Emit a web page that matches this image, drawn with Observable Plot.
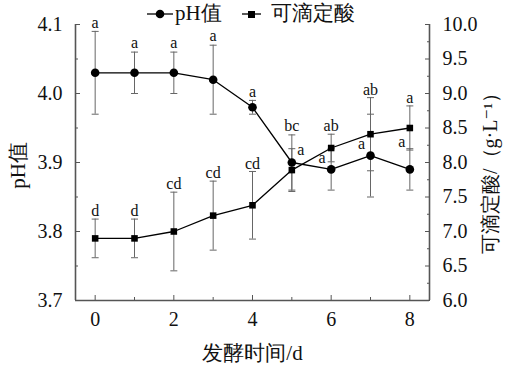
<!DOCTYPE html>
<html><head><meta charset="utf-8">
<script src="https://cdn.jsdelivr.net/npm/d3@7"></script>
<script src="https://cdn.jsdelivr.net/npm/@observablehq/plot@0.6"></script>
<style>
body{margin:0;background:#fff;}
#wrap{position:relative;width:505px;height:367px;font-family:"Liberation Serif","Times New Roman","DejaVu Serif",serif;color:#111;}
.lg{position:absolute;top:0;height:26px;line-height:26px;font-size:21px;white-space:nowrap;}
.lg svg{display:block}
#chart{position:absolute;left:0;top:0;}
#chart svg text{font-family:"Liberation Serif","Times New Roman","DejaVu Serif",serif;}
</style></head>
<body><div id="wrap">
<div id="chart"></div>
<div id="legend"></div>
</div>
<script>
// ---- data ----
const days = [0, 1, 2, 3, 4, 5, 6, 7, 8];
const phValues = [4.03, 4.03, 4.03, 4.02, 3.98, 3.90, 3.89, 3.91, 3.89];
const phErrors = [0.06, 0.03, 0.03, 0.05, 0.01, 0.04, 0.03, 0.06, 0.03];
const acidValues = [6.90, 6.90, 7.00, 7.23, 7.38, 7.89, 8.21, 8.41, 8.50];
const acidErrors = [0.28, 0.28, 0.57, 0.50, 0.49, 0.31, 0.20, 0.53, 0.32];
const phLetters = ["a", "a", "a", "a", "a", "a", "a", "a", "a"];
const acidLetters = ["d", "d", "cd", "cd", "cd", "bc", "ab", "ab", "a"];
const phLetterSide = ["top", "top", "top", "top", "top", "right", "left", "left", "capleft"];
const acidLetterSide = ["top", "top", "top", "top", "top", "both", "top", "top", "top"];
const xTicks = [0, 2, 4, 6, 8];
const xMinorTicks = [1, 3, 5, 7];
const phTicks = [3.7, 3.8, 3.9, 4.0, 4.1];
const phMinorTicks = [3.75, 3.85, 3.95, 4.05];
const acidTicks = [6.0, 6.5, 7.0, 7.5, 8.0, 8.5, 9.0, 9.5, 10.0];
const acidMinorTicks = [6.25, 6.75, 7.25, 7.75, 8.25, 8.75, 9.25, 9.75];
const xDomain = [-0.5, 8.5];
const phDomain = [3.7, 4.1];
const acidDomain = [6.0, 10.0];
const seriesNames = ["pH值", "可滴定酸"];
const xTitle = "发酵时间/d";
const phTitle = "pH值";
const acidTitle = "可滴定酸/（g·L⁻¹）";

// ---- helpers ----
const toPh = v => phDomain[0] + (v - acidDomain[0]) * (phDomain[1] - phDomain[0]) / (acidDomain[1] - acidDomain[0]);
const fromPh = p => acidDomain[0] + (p - phDomain[0]) * (acidDomain[1] - acidDomain[0]) / (phDomain[1] - phDomain[0]);

const rows = days.map((d, i) => ({
  day: d,
  ph: phValues[i], phLo: phValues[i] - phErrors[i], phHi: phValues[i] + phErrors[i],
  acid: toPh(acidValues[i]), acidLo: toPh(acidValues[i] - acidErrors[i]), acidHi: toPh(acidValues[i] + acidErrors[i]),
  phLetter: phLetters[i], acidLetter: acidLetters[i],
  phSide: phLetterSide[i], acidSide: acidLetterSide[i]
}));
const caps = rows.flatMap(r => [
  {day: r.day, y: r.phLo}, {day: r.day, y: r.phHi},
  {day: r.day, y: r.acidLo}, {day: r.day, y: r.acidHi}
]);
const capSymbol = {draw(ctx, size) { const w = Math.sqrt(size / Math.PI); ctx.moveTo(-w, 0); ctx.lineTo(w, 0); }};

const axisGray = "#555";
const errGray = "#666";

const chart = Plot.plot({
  width: 505, height: 367,
  marginLeft: 75, marginRight: 76, marginTop: 24, marginBottom: 67,
  style: {fontSize: "20px", color: "#111", background: "white"},
  x: {domain: xDomain},
  y: {domain: phDomain},
  marks: [
    Plot.ruleX([xDomain[0], xDomain[1]], {stroke: axisGray, strokeWidth: 1.6}),
    Plot.ruleY([phDomain[0]], {stroke: axisGray, strokeWidth: 1.6}),
    Plot.axisX(xTicks, {tickSize: -5, tickPadding: 16, fontSize: 20, stroke: axisGray, label: null}),
    Plot.axisX(xMinorTicks, {tickSize: -3, tickFormat: () => "", stroke: axisGray, label: null}),
    Plot.axisY(phTicks, {anchor: "left", tickSize: -5, tickPadding: 18, fontSize: 20, stroke: axisGray, tickFormat: d => d.toFixed(1), label: null}),
    Plot.axisY(phMinorTicks, {anchor: "left", tickSize: -3, tickFormat: () => "", stroke: axisGray, label: null}),
    Plot.axisY(acidTicks.map(toPh), {anchor: "right", tickSize: -5, tickPadding: 18, fontSize: 20, stroke: axisGray, tickFormat: d => fromPh(d).toFixed(1), label: null}),
    Plot.axisY(acidMinorTicks.map(toPh), {anchor: "right", tickSize: -3, tickFormat: () => "", stroke: axisGray, label: null}),
    Plot.text([xTitle], {frameAnchor: "bottom", dy: 53, fontSize: 21, textAnchor: "middle", lineAnchor: "middle"}),
    Plot.text([phTitle], {frameAnchor: "left", dx: -57, dy: 3, rotate: -90, fontSize: 21, textAnchor: "middle", lineAnchor: "middle"}),
    Plot.text([acidTitle], {frameAnchor: "right", dx: 61, dy: 6, rotate: -90, fontSize: 20, textAnchor: "middle", lineAnchor: "middle"}),
    Plot.ruleX(rows, {x: "day", y1: "phLo", y2: "phHi", stroke: errGray, strokeWidth: 1}),
    Plot.ruleX(rows, {x: "day", y1: "acidLo", y2: "acidHi", stroke: errGray, strokeWidth: 1}),
    Plot.dot(caps, {x: "day", y: "y", symbol: capSymbol, r: 3.5, stroke: errGray, strokeWidth: 1, fill: "none"}),
    Plot.line(rows, {x: "day", y: "ph", stroke: "#000", strokeWidth: 1.3}),
    Plot.line(rows, {x: "day", y: "acid", stroke: "#000", strokeWidth: 1.3}),
    Plot.dot(rows, {x: "day", y: "ph", r: 4.3, fill: "#000", stroke: "none"}),
    Plot.dot(rows, {x: "day", y: "acid", symbol: "square", r: 3.7, fill: "#000", stroke: "none"}),
    Plot.text(rows.filter(r => r.phSide === "top"), {x: "day", y: "phHi", text: "phLetter", dy: -9, fontSize: 16, lineAnchor: "middle"}),
    Plot.text(rows.filter(r => r.phSide === "right"), {x: "day", y: "ph", text: "phLetter", dx: 9, dy: -13, fontSize: 16, lineAnchor: "middle"}),
    Plot.text(rows.filter(r => r.phSide === "left"), {x: "day", y: "ph", text: "phLetter", dx: -9, dy: -12, fontSize: 16, lineAnchor: "middle"}),
    Plot.text(rows.filter(r => r.phSide === "capleft"), {x: "day", y: "phHi", text: "phLetter", dx: -8, dy: -7, fontSize: 16, lineAnchor: "middle"}),
    Plot.text(rows.filter(r => r.acidSide === "top"), {x: "day", y: "acidHi", text: "acidLetter", dy: -8, fontSize: 16, lineAnchor: "middle"}),
    Plot.text(rows.filter(r => r.acidSide === "both"), {x: "day", y: r => Math.max(r.acidHi, r.phHi), text: "acidLetter", dy: -9, fontSize: 16, lineAnchor: "middle"})
  ]
});
document.getElementById("chart").appendChild(chart);

const legend = document.getElementById("legend");
legend.innerHTML =
  `<div class="lg" style="left:147px;top:1px"><svg width="26" height="26"><line x1="0" x2="26" y1="13" y2="13" stroke="#000" stroke-width="1.3"/><circle cx="13" cy="13" r="4.3" fill="#000"/></svg></div>` +
  `<div class="lg" style="left:175px;top:0">${seriesNames[0]}</div>` +
  `<div class="lg" style="left:242px;top:1px"><svg width="19" height="26"><line x1="0" x2="19" y1="13" y2="13" stroke="#000" stroke-width="1.3"/><rect x="6" y="10" width="7" height="7" fill="#000"/></svg></div>` +
  `<div class="lg" style="left:271px;top:0">${seriesNames[1]}</div>`;
</script>
</body></html>
